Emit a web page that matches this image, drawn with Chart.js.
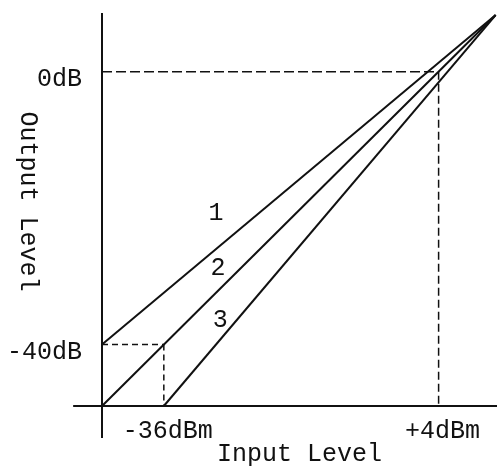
<!DOCTYPE html>
<html>
<head>
<meta charset="utf-8">
<script src="https://cdn.jsdelivr.net/npm/chart.js@4/dist/chart.umd.min.js"></script>
<style>
  html, body { margin: 0; padding: 0; background: #fff; }
  #wrap { width: 497px; height: 466px; }
</style>
</head>
<body>
<div id="wrap"><canvas id="chart"></canvas></div>
<script>
// input level (dBm) / output level (dB)
const inputRange = [-45, 12.5];
const outputRange = [-49, 8.6];
const inputTicks = [-36, 4];
const inputTickLabels = ["-36dBm", "+4dBm"];
const outputTicks = [-40, 0];
const outputTickLabels = ["-40dB", "0dB"];

// three transfer curves, all meeting at one point top right
const curveNames = ["1", "2", "3"];
const curveStartIn = [-45, -45, -36];
const curveStartOut = [-40, -49, -49];
const meetIn = 12.3;
const meetOut = 8.3;
const curveLabelIn = [-28.4, -28.1, -27.8];
const curveLabelOut = [-20.8, -28.8, -36.4];

// dashed guide lines: [inFrom, outFrom, inTo, outTo]
const guides = [
  [-45, 0, 4, 0],
  [4, 0, 4, -49],
  [-45, -40, -36, -40],
  [-36, -40, -36, -49],
];
const guideDash = [[10, 4], [8, 4], [6, 4], [6, 4]];

// axis lines run a bit past the origin
const axisLines = [
  [-45, -53.7, -45, 8.6],
  [-49.2, -49, 12.5, -49],
];

const FONT = "'Liberation Mono', 'DejaVu Sans Mono', monospace";
const INK = "#111";

const seg = (a) => [{ x: a[0], y: a[1] }, { x: a[2], y: a[3] }];

const datasets = [];
axisLines.forEach((a) => {
  datasets.push({ data: seg(a), borderColor: INK, borderWidth: 2, clip: false });
});
guides.forEach((g, i) => {
  datasets.push({ data: seg(g), borderColor: INK, borderWidth: 1.5, borderDash: guideDash[i], clip: false });
});
curveNames.forEach((name, i) => {
  datasets.push({
    label: name,
    data: seg([curveStartIn[i], curveStartOut[i], meetIn, meetOut]),
    borderColor: INK,
    borderWidth: 2,
    clip: false,
  });
});

const curveLabels = {
  id: "curveLabels",
  afterDatasetsDraw(chart) {
    const { ctx, scales } = chart;
    ctx.save();
    ctx.fillStyle = INK;
    ctx.font = "25px " + FONT;
    ctx.textAlign = "center";
    ctx.textBaseline = "middle";
    curveNames.forEach((name, i) => {
      ctx.fillText(name, scales.x.getPixelForValue(curveLabelIn[i]), scales.y.getPixelForValue(curveLabelOut[i]));
    });
    // y title reads top to bottom
    ctx.translate(28, (chart.chartArea.top + chart.chartArea.bottom) / 2 - 8);
    ctx.rotate(Math.PI / 2);
    ctx.fillText("Output Level", 0, 0);
    ctx.restore();
  },
};

new Chart(document.getElementById("chart"), {
  type: "scatter",
  data: { datasets },
  options: {
    animation: false,
    responsive: true,
    maintainAspectRatio: false,
    showLine: true,
    elements: { point: { radius: 0 }, line: { tension: 0 } },
    layout: { padding: { top: 13, right: 0, left: 0, bottom: 0 } },
    plugins: { legend: { display: false }, tooltip: { enabled: false } },
    scales: {
      x: {
        type: "linear",
        min: inputRange[0],
        max: inputRange[1],
        grid: { display: false },
        border: { display: false },
        afterBuildTicks: (s) => { s.ticks = inputTicks.map((v) => ({ value: v })); },
        afterFit: (s) => {
          s.height = 60;
          s.paddingLeft = 0;
          s.paddingRight = 0;
        },
        ticks: {
          color: INK,
          font: { family: FONT, size: 25 },
          padding: 2,
          labelOffset: 4,
          maxRotation: 0,
          autoSkip: false,
          callback: (v) => inputTickLabels[inputTicks.indexOf(v)],
        },
        title: {
          display: true,
          text: "Input Level",
          color: INK,
          font: { family: FONT, size: 25 },
          padding: { top: 0, bottom: -3 },
        },
      },
      y: {
        type: "linear",
        min: outputRange[0],
        max: outputRange[1],
        grid: { display: false },
        border: { display: false },
        afterBuildTicks: (s) => { s.ticks = outputTicks.map((v) => ({ value: v })); },
        afterFit: (s) => {
          s.width = 102;
          s.paddingTop = 0;
          s.paddingBottom = 0;
        },
        ticks: {
          color: INK,
          font: { family: FONT, size: 25 },
          padding: 12,
          labelOffset: 8,
          autoSkip: false,
          callback: (v) => outputTickLabels[outputTicks.indexOf(v)],
        },
      },
    },
  },
  plugins: [curveLabels],
});
</script>
</body>
</html>
